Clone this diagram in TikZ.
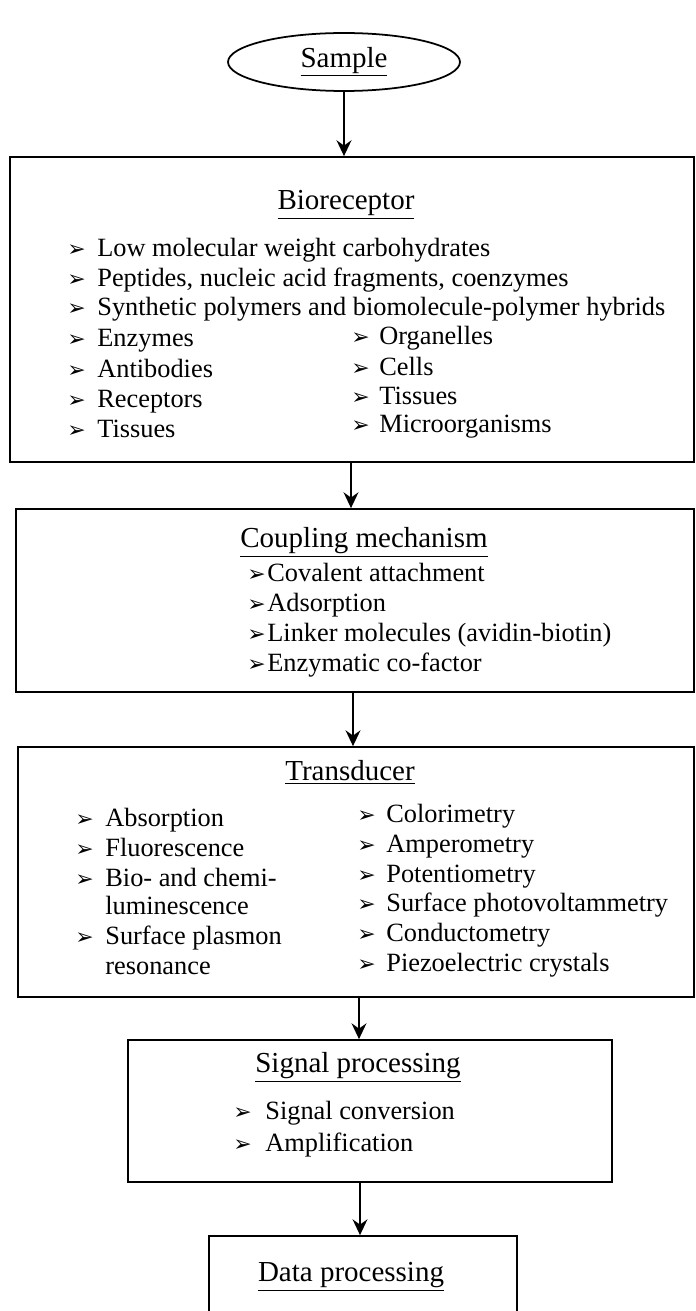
\documentclass[tikz,border=0pt]{standalone}
\usepackage{fontspec}
\setmainfont{Liberation Serif}
\newfontfamily\dingfont{DejaVu Sans}
\usetikzlibrary{shapes.geometric,fit,arrows.meta}
\newcommand{\bul}{{\dingfont\fontsize{12.5}{12}\selectfont ➢}}
\newcommand{\itm}[2]{\makebox[#1][l]{\bul}#2}
\begin{document}
\begin{tikzpicture}[x=0.02cm,y=-0.02cm,>={Stealth[length=9pt,width=8.5pt,inset=3pt]},
  box/.style={draw,line width=1pt,inner sep=0pt},
  title/.style={font=\fontsize{16.5}{19}\selectfont},
  item/.style={anchor=mid west,inner sep=0pt,font=\fontsize{15}{17}\selectfont},
  link/.style={->,line width=0.8pt}]
\useasboundingbox (0,0) rectangle (696,1311);
\node[draw,ellipse,line width=1pt,minimum width=4.64cm,minimum height=1.16cm,inner sep=0pt,title] (sample) at (344,62) {\underline{Sample}};
% bioreceptor
\node[box,fit={(10,157) (694,462)}] (bio) {};
\node[title] (bioT) at (346,205) {\underline{Bioreceptor}};
\foreach \y/\t [count=\i] in {252/Low molecular weight carbohydrates,
  {282/Peptides, nucleic acid fragments, coenzymes},
  311/Synthetic polymers and biomolecule-polymer hybrids,
  342/Enzymes, 373/Antibodies, 403/Receptors, 433/Tissues}
  \node[item] (bioL\i) at (67,\y) {\itm{0.6cm}{\t}};
\foreach \y/\t [count=\i] in {340/Organelles, 371/Cells, 400/Tissues, 428/Microorganisms}
  \node[item] (bioR\i) at (351,\y) {\itm{0.56cm}{\t}};
% coupling
\node[box,fit={(16,509) (694,692)}] (coup) {};
\node[title] (coupT) at (364,542) {\underline{Coupling mechanism}};
\foreach \y/\t [count=\i] in {577/Covalent attachment, 607/Adsorption,
  637/Linker molecules (avidin-biotin), 667/Enzymatic co-factor}
  \node[item] (coup\i) at (247,\y) {\itm{0.4cm}{\t}};
% transducer
\node[box,fit={(18,747) (694,997)}] (trans) {};
\node[title] (transT) at (350,772) {\underline{Transducer}};
\foreach \y/\t [count=\i] in {822/Absorption, 852/Fluorescence, 882/Bio- and chemi-, 940/Surface plasmon}
  \node[item] (transL\i) at (75,\y) {\itm{0.6cm}{\t}};
\node[item] (transL5) at (105,910) {luminescence};
\node[item] (transL6) at (105,970) {resonance};
\foreach \y/\t [count=\i] in {818/Colorimetry, 848/Amperometry, 878/Potentiometry,
  907/Surface photovoltammetry, 937/Conductometry, 967/Piezoelectric crystals}
  \node[item] (transR\i) at (357,\y) {\itm{0.58cm}{\t}};
% signal processing
\node[box,fit={(128,1040) (612,1182)}] (sig) {};
\node[title] (sigT) at (358,1067) {\underline{Signal processing}};
\node[item] (sig1) at (233,1115) {\itm{0.64cm}{Signal conversion}};
\node[item] (sig2) at (233,1147) {\itm{0.64cm}{Amplification}};
% data processing
\node[box,fit={(209,1236) (517,1350)}] (data) {};
\node[title] (dataT) at (351,1277) {\underline{Data processing}};
% arrows
\draw[link] (sample.south) -- (sample.south |- bio.north);
\draw[link] (351,0 |- bio.south) -- (351,0 |- coup.north);
\draw[link] (353,0 |- coup.south) -- (353,0 |- trans.north);
\draw[link] (359,0 |- trans.south) -- (359,0 |- sig.north);
\draw[link] (360,0 |- sig.south) -- (360,0 |- data.north);
\end{tikzpicture}
\end{document}
